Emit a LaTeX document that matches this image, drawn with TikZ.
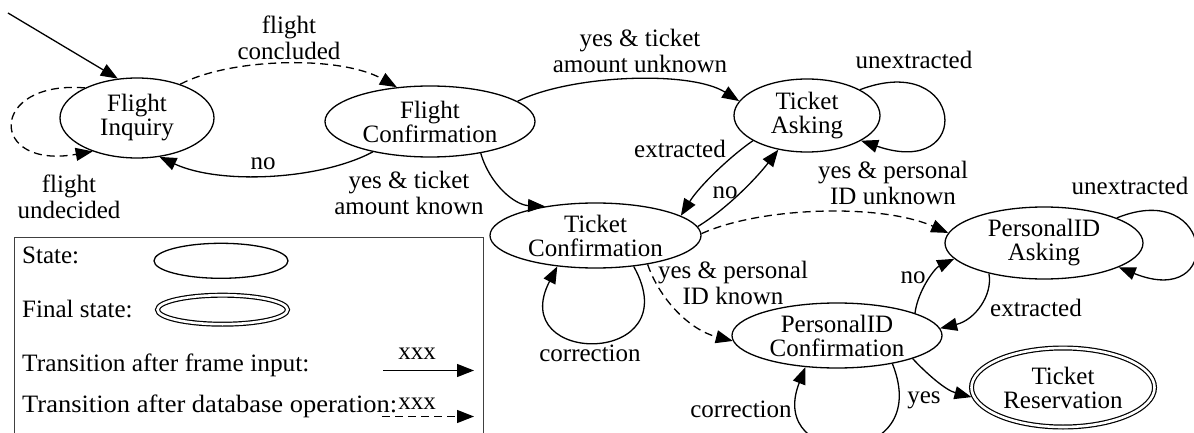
\documentclass[tikz,border=0pt]{standalone}
\usepackage{fontspec}
\usepackage{graphicx}
\setmainfont{Liberation Serif}
\usetikzlibrary{arrows.meta,shapes.geometric}
\begin{document}
\begin{tikzpicture}[x=1pt,y=-1pt,
  every node/.style={font=\fontsize{25}{24}\selectfont},
  state/.style={draw,ellipse,line width=1.3pt,inner sep=0pt,align=center},
  final/.style={state,double,double distance=2.6pt,line width=1.2pt,outer sep=2.5pt},
  lbl/.style={inner sep=0pt,align=center,font=\fontsize{25}{26}\selectfont},
  tr/.style={line width=1.3pt,-{Triangle[length=17pt,width=13pt]}},
  db/.style={tr,dash pattern=on 8pt off 5pt},
  legendbox/.style={line width=0.9pt,draw=black!75}
]
\clip (0,0) rectangle (1194,433);
\useasboundingbox (0,0) rectangle (1194,433);

% states
\node[state,minimum width=154pt,minimum height=80pt] (FI) at (137,118) {Flight\\Inquiry};
\node[state,minimum width=210pt,minimum height=71pt] (FC) at (430,121.5) {Flight\\Confirmation};
\node[state,minimum width=146pt,minimum height=73pt] (TA) at (807,115.5) {Ticket\\Asking};
\node[state,minimum width=211pt,minimum height=65pt] (TC) at (595.5,235.5) {Ticket\\Confirmation};
\node[state,minimum width=198pt,minimum height=72pt] (PIA) at (1044,243) {PersonalID\\Asking};
\node[state,minimum width=210pt,minimum height=65pt] (PIC) at (837,335.5) {PersonalID\\Confirmation};
\node[final,minimum width=183pt,minimum height=79pt] (TR) at (1063,387.5) {Ticket\\Reservation};

% initial arrow
\coordinate (init) at (8,13);
\draw[tr] (init) -- (FI.116);

% transitions
\draw[db] (FI.150) .. controls (-12,80) and (-12,170) .. (FI.217);
\draw[db] (FI.38) .. controls (230,58) and (340,55) .. (FC.134);
\draw[tr] (FC.208) .. controls (320,180) and (220,185) .. (FI.300);
\draw[tr] (FC.13) .. controls (570,75) and (690,70) .. (TA.168);
\draw[tr] (FC.328) .. controls (490,185) and (515,205) .. (TC.150);
\draw[tr] (TA.205) .. controls (732,155) and (700,185) .. (TC.13);
\draw[tr] (TC.5) .. controls (725,210) and (755,180) .. (TA.230);
\draw[tr] (TA.26) .. controls (965,50) and (975,180) .. (TA.335);
\draw[db] (TC.1) .. controls (760,207) and (880,203) .. (PIA.174);
\draw[tr] (TC.321) .. controls (690,367) and (505,367) .. (TC.219);
\draw[db] (TC.331) .. controls (660,300) and (690,330) .. (PIC.183);
\draw[tr] (PIC.16) .. controls (918,290) and (935,268) .. (PIA.190);
\draw[tr] (PIA.209) .. controls (993,295) and (975,320) .. (PIC.4);
\draw[tr] (PIA.19) .. controls (1215,178) and (1225,310) .. (PIA.342);
\draw[tr] (PIC.343) .. controls (925,372) and (945,390) .. (TR.186);
\draw[tr] (PIC.333) .. controls (935,470) and (765,470) .. (PIC.225);

% labels
\node[lbl] (l1) at (289,37.5) {flight\\concluded};
\node[lbl] (l2) at (69,196.5) {flight\\undecided};
\node[lbl] (l3) at (263,164) {no};
\node[lbl] (l4) at (640,51) {yes \& ticket\\amount unknown};
\node[lbl] (l5) at (409,193) {yes \& ticket\\amount known};
\node[lbl] (l6) at (680,148.5) {extracted};
\node[lbl] (l7) at (725,193) {no};
\node[lbl] (l8) at (914,59.5) {unextracted};
\node[lbl] (l9) at (893,182.5) {yes \& personal\\ID unknown};
\node[lbl] (l10) at (1130,185.5) {unextracted};
\node[lbl] (l11) at (590,353.5) {correction};
\node[lbl] (l12) at (733,282.5) {yes \& personal\\ID known};
\node[lbl] (l13) at (913,277.5) {no};
\node[lbl] (l14) at (1036,307.5) {extracted};
\node[lbl] (l15) at (924,400) {yes};
\node[lbl] (l16) at (741,409.5) {correction};

% legend
\draw[legendbox] (14,237) rectangle (483,445);
\node[lbl,anchor=west] (ls) at (22,255.5) {State:};
\node[lbl,anchor=west] (lf) at (22,309.5) {Final state:};
\node[lbl,anchor=west] (lt1) at (22,365.5) {\scalebox{1.015}[1]{Transition after frame input:}};
\node[lbl,anchor=west] (lt2) at (22,406.5) {\scalebox{1.06}[1]{Transition after database operation:}};
\node[state,minimum width=134pt,minimum height=35pt] (lstate) at (221,260.8) {};
\node[final,minimum width=130pt,minimum height=29pt] (lfinal) at (222.5,309.7) {};
\coordinate (a1s) at (383,370.5);
\coordinate (a1e) at (474,370.5);
\draw[tr] (a1s) -- (a1e);
\node[lbl] (x1) at (417,354) {xxx};
\coordinate (a2s) at (382,416.5);
\coordinate (a2e) at (474,416.5);
\draw[db] (a2s) -- (a2e);
\node[lbl] (x2) at (417,404) {xxx};
\end{tikzpicture}
\end{document}
